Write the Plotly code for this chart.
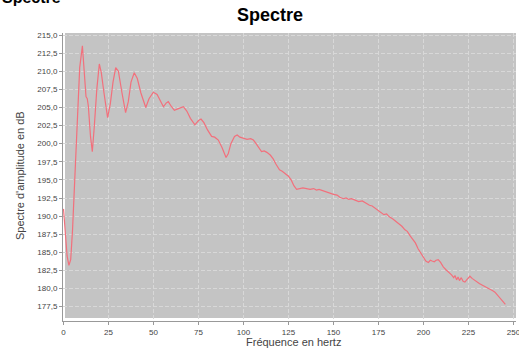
import plotly.graph_objects as go

freq_hz = [0, 1, 2, 3, 4, 5, 6, 7, 8, 9, 10.5, 11.5, 12.5, 13.2, 13.8, 15, 16, 17, 18.5, 19.9,
           21, 22.5, 24.5, 26, 27.5, 29, 30.5, 32.5, 34.5, 36, 37.5, 39.3, 41, 43, 45.7, 47.5,
           49.9, 52, 54, 55.5, 57, 58.2, 60, 61.6, 63.5, 66.6, 68.5, 70.5, 73, 75, 76.4, 78,
           80, 82.3, 84, 86, 88, 89.5, 90.3, 91.5, 93, 95, 96.5, 98, 100, 102, 104, 105.5,
           107, 108.5, 110, 111.5, 113, 115, 116.5, 118, 120, 121.5, 123, 125, 126.5, 128,
           129.5, 131, 133, 135, 137, 139, 140.5, 142, 144, 146, 148, 150, 152, 153.5, 155.5,
           157, 158.5, 160, 162, 164, 166, 168, 170, 171.5, 173, 175, 176.5, 178, 179.5, 181,
           183, 184.5, 186, 188, 189.7, 191, 192.5, 194.3, 195.5, 197, 198.5, 200, 201.3,
           202.7, 203.8, 204.8, 206, 207, 208.2, 209.5, 211, 212.5, 214, 215.6, 216.8, 217.5,
           218.4, 219.2, 220, 221, 222, 223, 224, 225.8, 227, 228.5, 229.6, 231, 232.5, 234,
           235.5, 237, 238.5, 239.7, 241, 242.5, 244, 245.5]

amplitude_db = [191.0, 187.5, 184.5, 183.2, 184.0, 188.0, 194.0, 200.5, 206.0, 210.5, 213.5,
                210.0, 206.5, 206.2, 205.2, 201.0, 198.9, 202.0, 207.5, 211.0, 209.8, 207.0,
                203.6, 205.5, 208.5, 210.5, 210.0, 207.0, 204.3, 205.8, 208.5, 209.8, 209.0,
                207.0, 205.0, 206.2, 207.1, 206.8, 205.8, 205.1, 205.6, 205.8, 205.1, 204.6,
                204.8, 205.1, 204.5, 203.5, 202.6, 203.2, 203.4, 202.9, 201.9, 201.0, 200.9,
                200.5, 199.5, 198.4, 198.1, 198.6, 200.0, 201.0, 201.2, 200.9, 200.7, 200.6,
                200.7, 200.5, 200.0, 199.4, 198.9, 199.0, 198.8, 198.4, 197.9, 197.2, 196.4,
                196.2, 195.9, 195.5, 195.0, 194.2, 193.7, 193.8, 193.9, 193.8, 193.7, 193.8,
                193.6, 193.7, 193.5, 193.3, 193.1, 193.0, 192.9, 192.6, 192.4, 192.5, 192.3,
                192.4, 192.2, 192.0, 192.1, 191.8, 191.5, 191.4, 191.1, 190.8, 190.5, 190.2,
                190.3, 189.9, 189.6, 189.3, 189.1, 188.6, 188.1, 187.9, 187.3, 186.7, 186.3,
                185.5, 184.9, 184.2, 183.8, 183.6, 183.9, 183.8, 183.7, 183.9, 184.0, 183.6,
                183.0, 182.6, 182.3, 181.9, 181.5, 181.8, 181.2, 181.6, 181.1, 181.5, 181.0,
                180.9, 181.2, 181.7, 181.4, 181.1, 180.9, 180.7, 180.5, 180.3, 180.2, 179.9,
                179.7, 179.5, 179.1, 178.7, 178.3, 177.8]

x_ticks = [0, 25, 50, 75, 100, 125, 150, 175, 200, 225, 250]
y_ticks = [177.5, 180.0, 182.5, 185.0, 187.5, 190.0, 192.5, 195.0, 197.5, 200.0,
           202.5, 205.0, 207.5, 210.0, 212.5, 215.0]

FONT = "Liberation Sans"

fig = go.Figure()
fig.add_trace(go.Scatter(x=freq_hz, y=amplitude_db, mode="lines",
                         line=dict(color="#f2707c", width=1.2), showlegend=False,
                         hoverinfo="x+y"))

W, H = 519, 356
L, R, T, B = 63, 3, 33, 35
pw, ph = W - L - R, H - T - B

def px_x(p):
    return (p - L) / pw

def px_y(p):
    return 1 - (p - T) / ph

fig.update_layout(
    width=W, height=H,
    margin=dict(l=L, r=R, t=T, b=B, autoexpand=False),
    paper_bgcolor="white",
    plot_bgcolor="white",
    separators=", ",
    font=dict(family=FONT, size=8, color="#444444"),
    shapes=[dict(type="rect", xref="paper", yref="paper", layer="below",
                 x0=px_x(65), x1=1, y0=px_y(318), y1=1,
                 fillcolor="#c4c4c4", line=dict(width=0))],
    annotations=[
        dict(text="<b>Spectre</b>", xref="paper", yref="paper", x=px_x(270), y=px_y(15),
             xanchor="center", yanchor="middle", showarrow=False,
             font=dict(family=FONT, size=18, color="black")),
        dict(text="<b>Spectre</b>", xref="paper", yref="paper", x=px_x(0), y=px_y(-3),
             xanchor="left", yanchor="middle", showarrow=False,
             font=dict(family=FONT, size=16, color="black")),
        dict(text="Spectre d'amplitude en dB", xref="paper", yref="paper",
             x=px_x(20), y=px_y(176), xanchor="center", yanchor="middle",
             textangle=-90, showarrow=False,
             font=dict(family=FONT, size=11, color="#444444")),
        dict(text="Fréquence en hertz", xref="paper", yref="paper",
             x=px_x(293), y=px_y(342), xanchor="center", yanchor="middle",
             showarrow=False, font=dict(family=FONT, size=11, color="#444444")),
    ],
)

fig.update_xaxes(range=[-0.28, 251.4], tickvals=x_ticks, ticktext=[str(v) for v in x_ticks],
                 automargin=False, ticklabeloverflow="allow",
                 showline=True, linecolor="#999999", linewidth=1,
                 ticks="outside", ticklen=3, tickcolor="#999999",
                 showgrid=True, gridcolor="#d8d8d8", griddash="4px,2px", gridwidth=1,
                 zeroline=False, fixedrange=True)
fig.update_yaxes(range=[175.52, 215.28], tickvals=y_ticks, tickformat=".1f",
                 automargin=False,
                 showline=True, linecolor="#999999", linewidth=1,
                 ticks="outside", ticklen=3, tickcolor="#999999",
                 showgrid=True, gridcolor="#d8d8d8", griddash="4px,2px", gridwidth=1,
                 zeroline=False, fixedrange=True)

fig.write_html("out.html",
               config={"displayModeBar": False},
               post_script="document.body.style.margin='0';document.body.style.overflow='hidden';")
